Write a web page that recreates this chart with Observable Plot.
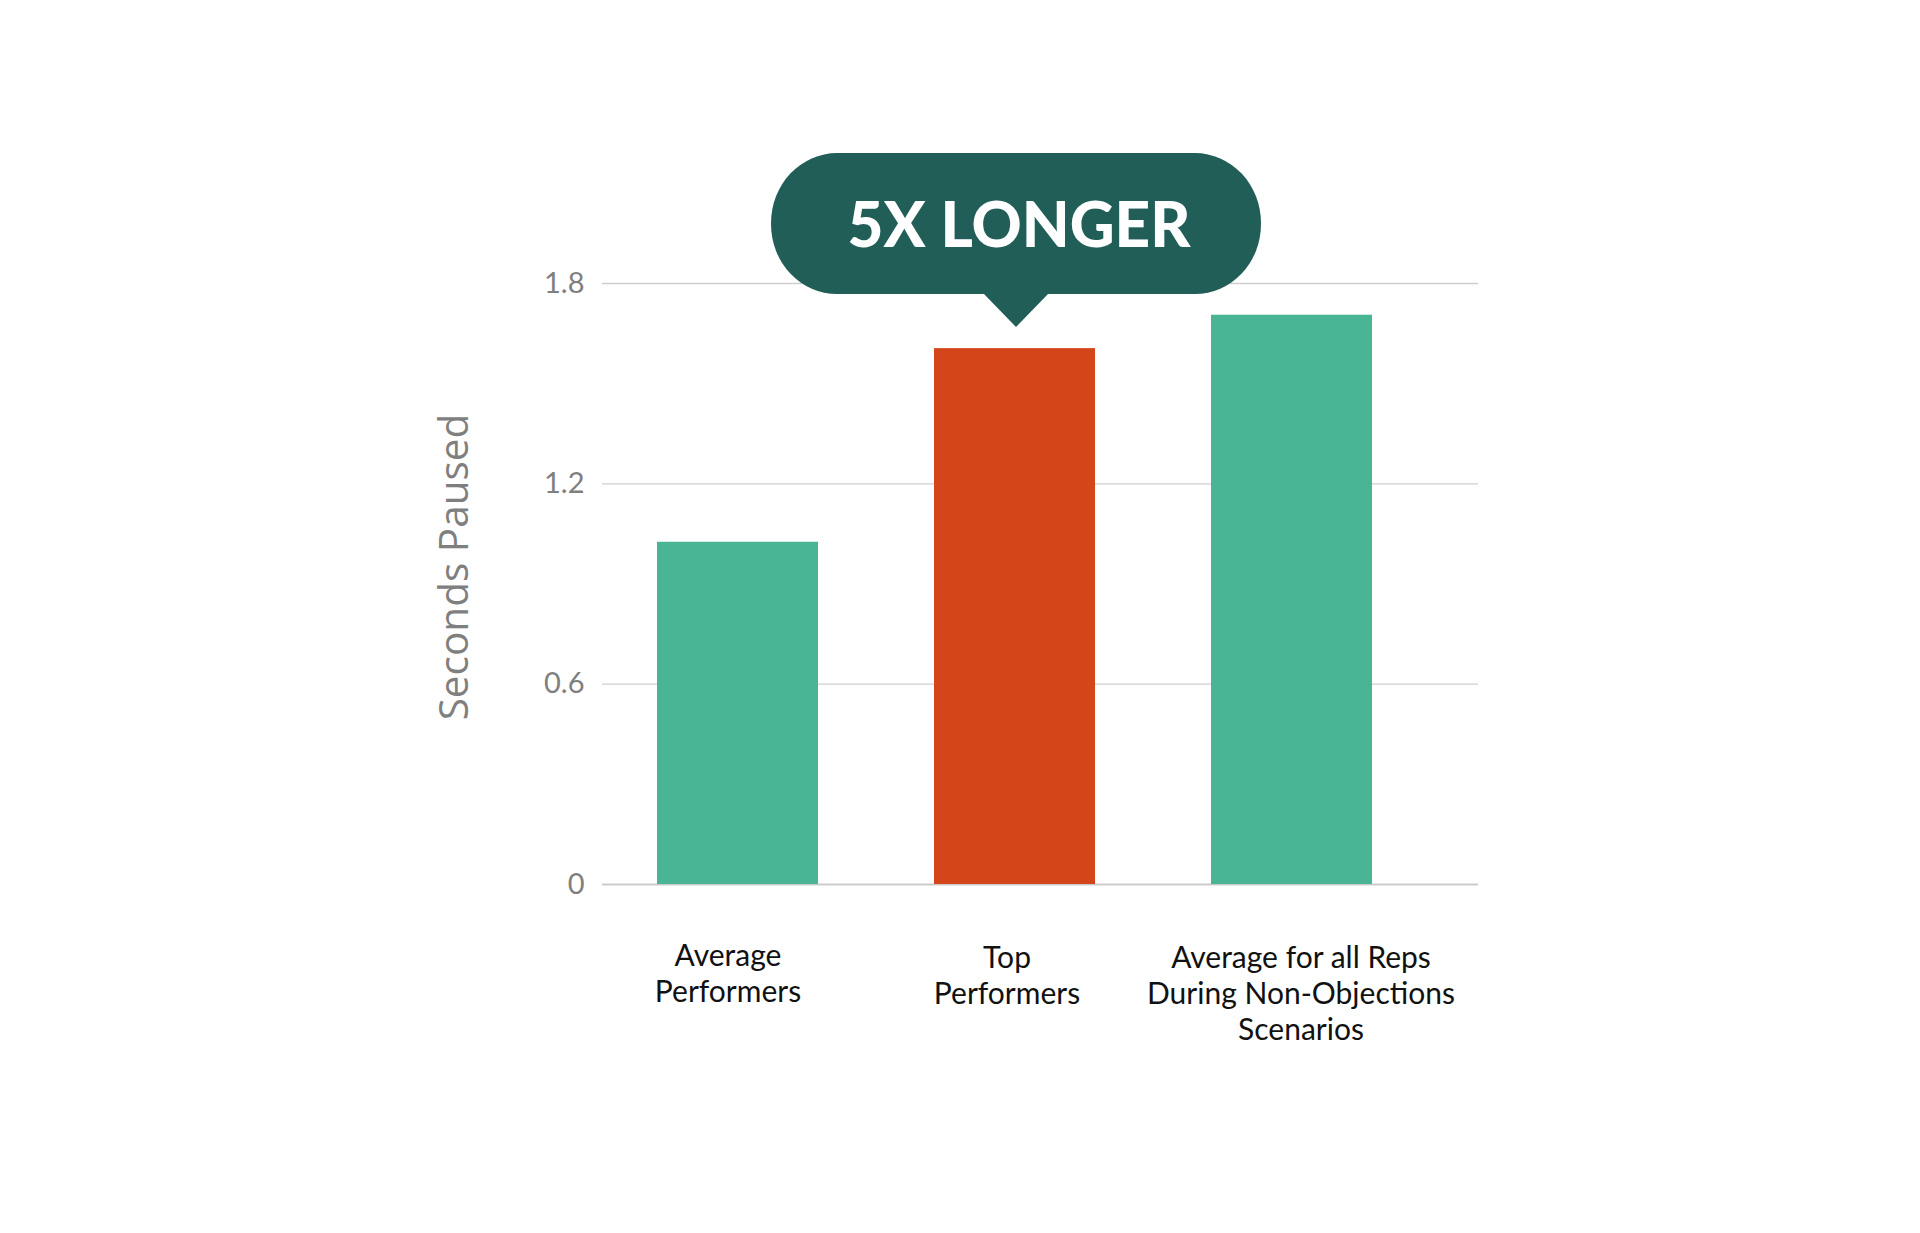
<!DOCTYPE html>
<html>
<head>
<meta charset="utf-8">
<script src="https://cdn.jsdelivr.net/npm/d3@7"></script>
<script src="https://cdn.jsdelivr.net/npm/@observablehq/plot@0.6"></script>
<style>
  html, body { margin: 0; padding: 0; background: #fff; }
  #chart { width: 1920px; height: 1233px; }
</style>
</head>
<body>
<div id="chart"></div>
<script>
// Pause length before responding, by rep group
const groups = [
  "Average\nPerformers",
  "Top\nPerformers",
  "Average for all Reps\nDuring Non-Objections\nScenarios"
];
const seconds = [1.025, 1.605, 1.705];
const barColors = ["#4ab594", "#d4461a", "#4ab594"];
const yTicks = [0, 0.6, 1.2, 1.8];
const yLabel = "Seconds Paused";
const calloutText = "5X LONGER";
const calloutIndex = 1;

const rows = groups.map((g, i) => ({group: g, value: seconds[i], color: barColors[i]}));

// Category labels under the bars
const xLabelStyle = {
  tickSize: 0,
  tickPadding: 58,
  fontSize: 30,
  fontFamily: "Lato",
  color: "#111",
  lineHeight: 1.2,
  label: null
};

const chart = Plot.plot({
  width: 1920,
  height: 1233,
  marginLeft: 602,
  marginRight: 442,
  marginTop: 283,
  marginBottom: 349,
  style: {background: "#fff", overflow: "visible"},
  x: {domain: groups, range: [656, 1374], paddingInner: 0.417, paddingOuter: 0},
  y: {domain: [0, 1.8]},
  color: {type: "identity"},
  marks: [
    Plot.gridY(yTicks, {stroke: "#cfcfcf", strokeOpacity: 1, strokeWidth: 1.3}),
    Plot.ruleY([0], {stroke: "#c8c8c8", strokeWidth: 1.5}),
    Plot.barY(rows, {x: "group", y: "value", fill: "color"}),
    Plot.axisY(yTicks, {
      tickSize: 0,
      tickPadding: 18,
      tickFormat: d => d === 0 ? "0" : d.toFixed(1),
      fontSize: 29,
      fontFamily: "Lato",
      color: "#7f7f7f",
      label: null
    }),
    Plot.axisX([groups[0]], {...xLabelStyle, dx: -10, dy: -2}),
    Plot.axisX([groups[1]], {...xLabelStyle, dx: -8}),
    Plot.axisX([groups[2]], {...xLabelStyle, dx: 9}),
    Plot.text([yLabel], {
      frameAnchor: "left",
      text: d => d,
      rotate: -90,
      dx: -147,
      dy: -17,
      fontSize: 40.5,
      fontFamily: "Open Sans",
      fill: "#7f7f7f",
      textAnchor: "middle",
      lineAnchor: "middle"
    })
  ]
});

document.getElementById("chart").appendChild(chart);

// Speech-bubble callout pointing at the highlighted bar
const sx = chart.scale("x");
const sy = chart.scale("y");
const cx = sx.apply(groups[calloutIndex]) + sx.bandwidth / 2 + 1.5;
const tipY = sy.apply(seconds[calloutIndex]) - 21;
const boxBottom = tipY - 33;
const boxH = 141, boxW = 490;
const boxTop = boxBottom - boxH;
const bubbleColor = "#225e58";

const g = d3.select(chart).append("g");
g.append("rect")
  .attr("x", cx - boxW / 2)
  .attr("y", boxTop)
  .attr("width", boxW)
  .attr("height", boxH)
  .attr("rx", 66)
  .attr("ry", 70)
  .attr("fill", bubbleColor);
g.append("path")
  .attr("d", `M${cx - 33},${boxBottom - 1}L${cx + 33},${boxBottom - 1}L${cx},${tipY}Z`)
  .attr("fill", bubbleColor);
g.append("text")
  .attr("x", cx + 3)
  .attr("y", boxTop + boxH / 2 + 23)
  .attr("text-anchor", "middle")
  .attr("font-family", "Lato")
  .attr("font-weight", 900)
  .attr("font-size", 62)
  .attr("fill", "#fff")
  .text(calloutText);
</script>
</body>
</html>
